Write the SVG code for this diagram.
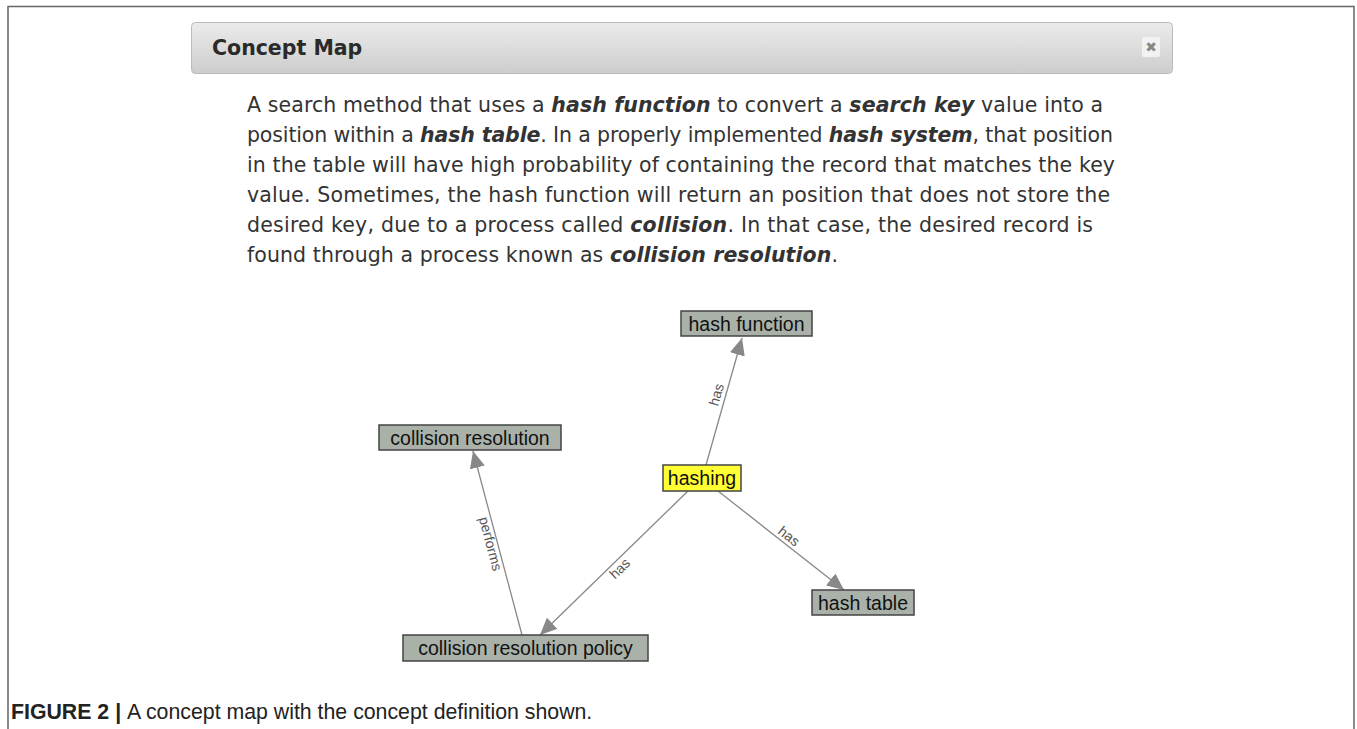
<svg xmlns="http://www.w3.org/2000/svg" width="1357" height="729" viewBox="0 0 1357 729">
<defs>
<linearGradient id="hdr" x1="0" y1="0" x2="0" y2="1">
<stop offset="0" stop-color="#ebebeb"/>
<stop offset="1" stop-color="#cdcdcd"/>
</linearGradient>
<marker id="arr" viewBox="0 0 10 10" refX="10" refY="5" markerWidth="17" markerHeight="17" markerUnits="userSpaceOnUse" orient="auto">
<path d="M0,0.5 L10,5 L0,9.5 z" fill="#888"/>
</marker>
<style>
.body{font-family:"DejaVu Sans",Verdana,sans-serif;font-size:20.5px;fill:#333}
.bi{font-weight:bold;font-style:italic}
.node rect{fill:#a9b1a9;stroke:#444;stroke-width:1.5}
.node text{font-family:"Liberation Sans",Arial,sans-serif;font-size:19.5px;fill:#111;text-anchor:middle}
.edge{stroke:#888;stroke-width:1.3;fill:none;marker-end:url(#arr)}
.lbl{font-family:"Liberation Sans",Arial,sans-serif;font-size:14px;fill:#555;text-anchor:middle}
</style>
</defs>
<rect x="0" y="0" width="1357" height="729" fill="#fff"/>
<path d="M8,729 V6.5 H1354 V729" fill="none" stroke="#666" stroke-width="1.5"/>
<g id="header">
<rect x="191.5" y="22.5" width="981" height="51" rx="4" fill="url(#hdr)" stroke="#bbb"/>
<text x="212" y="55" font-family="DejaVu Sans,Verdana,sans-serif" font-size="20.5" font-weight="bold" fill="#2a2a2a">Concept Map</text>
<rect x="1142" y="37" width="18" height="20" rx="2" fill="#f2f2f2"/>
<text x="1151" y="52" font-family="DejaVu Sans,sans-serif" font-size="14" font-weight="bold" fill="#888" text-anchor="middle">✖</text>
</g>
<g id="definition" class="body">
<text x="247" y="112" textLength="856" lengthAdjust="spacing">A search method that uses a <tspan class="bi">hash function</tspan> to convert a <tspan class="bi">search key</tspan> value into a</text>
<text x="247" y="142" textLength="866" lengthAdjust="spacing">position within a <tspan class="bi">hash table</tspan>. In a properly implemented <tspan class="bi">hash system</tspan>, that position</text>
<text x="247" y="172" textLength="868" lengthAdjust="spacing">in the table will have high probability of containing the record that matches the key</text>
<text x="247" y="202" textLength="863" lengthAdjust="spacing">value. Sometimes, the hash function will return an position that does not store the</text>
<text x="247" y="232" textLength="846" lengthAdjust="spacing">desired key, due to a process called <tspan class="bi">collision</tspan>. In that case, the desired record is</text>
<text x="247" y="262" textLength="591" lengthAdjust="spacing">found through a process known as <tspan class="bi">collision resolution</tspan>.</text>
</g>
<g id="connectors">
<line class="edge" x1="706" y1="465" x2="742" y2="338"/>
<line class="edge" x1="718" y1="491" x2="844" y2="590"/>
<line class="edge" x1="688" y1="491" x2="540" y2="635"/>
<line class="edge" x1="522" y1="635" x2="473" y2="451"/>
<text class="lbl" transform="translate(721,396) rotate(-74)">has</text>
<text class="lbl" transform="translate(786,540) rotate(38)">has</text>
<text class="lbl" transform="translate(623,572) rotate(-44)">has</text>
<text class="lbl" transform="translate(486,545) rotate(75)">performs</text>
</g>
<g id="hash-function" class="node"><rect x="681" y="311" width="131" height="25"/><text x="746.5" y="330.5">hash function</text></g>
<g id="collision-resolution" class="node"><rect x="379" y="425" width="182" height="25"/><text x="470" y="444.5">collision resolution</text></g>
<g id="hashing" class="node"><rect x="663" y="465" width="78" height="26" style="fill:#ffff33"/><text x="702" y="485">hashing</text></g>
<g id="hash-table" class="node"><rect x="812" y="590" width="102" height="25"/><text x="863" y="609.5">hash table</text></g>
<g id="collision-resolution-policy" class="node"><rect x="403" y="635" width="245" height="26"/><text x="525.5" y="655">collision resolution policy</text></g>
<g id="caption" font-family="Liberation Sans,Arial,sans-serif" font-size="21.3" fill="#222">
<text x="11" y="719"><tspan font-weight="bold">FIGURE 2 | </tspan>A concept map with the concept definition shown.</text>
</g>
</svg>
